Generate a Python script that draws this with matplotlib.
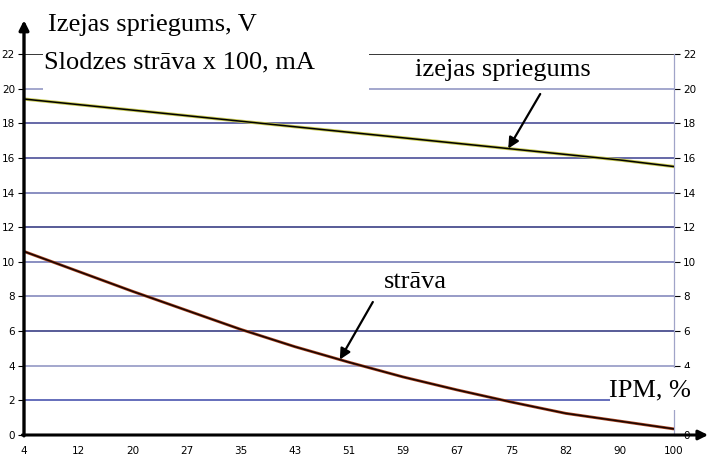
import numpy as np
import matplotlib
matplotlib.use("Agg")
import matplotlib.pyplot as plt
from matplotlib.patches import Rectangle

# ---- data ----
ipm_labels = ["4", "12", "20", "27", "35", "43", "51", "59", "67", "75", "82", "90", "100"]
voltage = [19.4, 19.08, 18.76, 18.44, 18.12, 17.8, 17.48, 17.16, 16.84, 16.52, 16.2, 15.88, 15.5]
current = [10.6, 9.45, 8.3, 7.2, 6.1, 5.1, 4.2, 3.35, 2.6, 1.9, 1.25, 0.8, 0.35]
y_ticks = [0, 2, 4, 6, 8, 10, 12, 14, 16, 18, 20, 22]
grid_colors = {22: "#000000", 20: "#8a90c0", 18: "#3c4090", 16: "#3c4090", 14: "#6a70b0",
               12: "#2a2f7a", 10: "#6a70b0", 8: "#7a80b8", 6: "#2a2f7a", 4: "#8a90c0", 2: "#3a47a8"}

W, H = 710, 462
fig = plt.figure(figsize=(W / 100, H / 100), dpi=100)
ax = fig.add_axes([24 / W, 27 / H, 650 / W, 381 / H])
x = np.arange(len(ipm_labels))
ax.set_xlim(0, len(ipm_labels) - 1)
ax.set_ylim(0, 22)

for s in ["top", "left", "bottom"]:
    ax.spines[s].set_visible(False)
ax.spines["right"].set_color("#a0a4c8")
ax.spines["right"].set_linewidth(0.9)

# gridlines
for v in y_ticks[1:]:
    ax.axhline(v, color=grid_colors[v], lw=1.1, zorder=1)

# ticks
ax.set_yticks(y_ticks)
ax.set_yticklabels([str(v) for v in y_ticks])
ax.tick_params(axis="y", which="both", left=True, right=True, labelleft=True, labelright=True,
               length=4.5, width=0.8, labelsize=7.5, pad=2, colors="black")
for t in ax.yaxis.get_ticklines()[1::2]:
    t.set_color("#a0a4c8")
# the right-hand "2" is hidden behind the "IPM, %" label in the original
ax.yaxis.get_major_ticks()[1].label2.set_visible(False)
ax.yaxis.get_major_ticks()[1].tick2line.set_visible(False)
ax.set_xticks(x)
ax.set_xticklabels(ipm_labels)
ax.tick_params(axis="x", length=0, labelsize=7.5, pad=8)

# curves
ax.plot(x, voltage, color="#c8c850", lw=2.3, zorder=3, solid_capstyle="butt")
ax.plot(x, voltage, color="#000000", lw=1.1, zorder=4)
ax.plot(x, current, color="#a84420", lw=2.1, zorder=3, solid_capstyle="butt")
ax.plot(x, current, color="#1a0500", lw=1.1, zorder=4)

# axes arrows
ax.annotate("", xy=(0, 23.95), xytext=(0, -0.05), xycoords="data",
            arrowprops=dict(arrowstyle="-|>", lw=2.4, color="black", mutation_scale=14,
                            shrinkA=0, shrinkB=0), annotation_clip=False, zorder=6)
ax.annotate("", xy=(12.63, 0), xytext=(-0.03, 0), xycoords="data",
            arrowprops=dict(arrowstyle="-|>", lw=2.2, color="black", mutation_scale=14,
                            shrinkA=0, shrinkB=0), annotation_clip=False, zorder=6)

# annotation arrows pointing at curves
xv = 8.94
ax.annotate("", xy=(xv, np.interp(xv, x, voltage)), xytext=(9.53, 19.69),
            arrowprops=dict(arrowstyle="-|>", lw=1.6, color="black", mutation_scale=16,
                            shrinkA=0, shrinkB=0), zorder=7)
xc = 5.83
ax.annotate("", xy=(xc, np.interp(xc, x, current)), xytext=(6.44, 7.68),
            arrowprops=dict(arrowstyle="-|>", lw=1.6, color="black", mutation_scale=16,
                            shrinkA=0, shrinkB=0), zorder=7)

# white boxes behind labels
def box(x0, y0, x1, y1):
    fig.patches.append(Rectangle((x0 / W, 1 - y1 / H), (x1 - x0) / W, (y1 - y0) / H,
                                 transform=fig.transFigure, facecolor="white",
                                 edgecolor="none", zorder=2))

box(43, 38, 369, 96)
box(610, 368, 700, 410)

serif = ["Liberation Serif", "DejaVu Serif"]
def label(px, py, s):
    fig.text(px / W, 1 - py / H, s, family=serif, fontsize=19, ha="left", va="baseline", zorder=5)

label(48, 31, "Izejas spriegums, V")
label(44, 68, "Slodzes strāva x 100, mA")
label(415, 76, "izejas spriegums")
label(384, 288, "strāva")
label(609, 396, "IPM, %")

fig.savefig("out.png", dpi=100)
